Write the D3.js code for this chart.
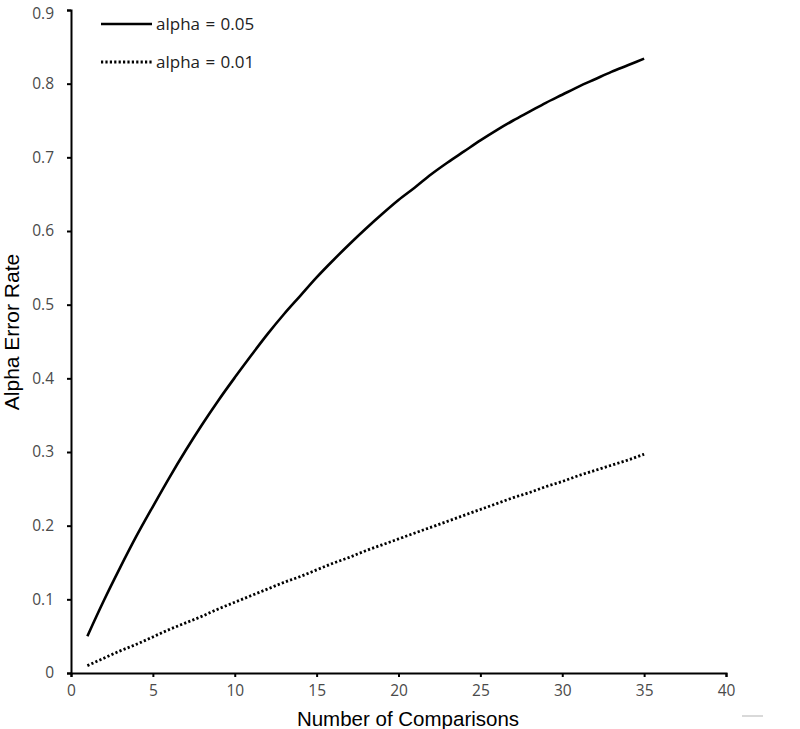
<!DOCTYPE html>
<html>
<head>
<meta charset="utf-8">
<script src="https://cdn.jsdelivr.net/npm/d3@7"></script>
<style>
	body { margin: 0; background: #fff; }
	svg { display: block; }
</style>
</head>
<body>
<div id="chart"></div>
<script>
// number of comparisons
var comparisons = [1, 2, 3, 4, 5, 6, 7, 8, 9, 10, 11, 12, 13, 14, 15, 16, 17, 18,
	19, 20, 21, 22, 23, 24, 25, 26, 27, 28, 29, 30, 31, 32, 33, 34, 35];
// alpha error rate
var alpha05 = [0.050, 0.098, 0.143, 0.186, 0.226, 0.265, 0.302, 0.337, 0.370, 0.401,
	0.431, 0.460, 0.487, 0.512, 0.537, 0.560, 0.582, 0.603, 0.623, 0.642,
	0.659, 0.677, 0.693, 0.708, 0.723, 0.737, 0.750, 0.762, 0.774, 0.785,
	0.796, 0.806, 0.816, 0.825, 0.834];
var alpha01 = [0.010, 0.020, 0.030, 0.039, 0.049, 0.059, 0.068, 0.077, 0.087, 0.096,
	0.105, 0.114, 0.123, 0.131, 0.140, 0.149, 0.157, 0.166, 0.174, 0.182,
	0.190, 0.198, 0.206, 0.214, 0.222, 0.230, 0.238, 0.245, 0.253, 0.260,
	0.268, 0.275, 0.282, 0.289, 0.297];
var xTicks = [0, 5, 10, 15, 20, 25, 30, 35, 40];
var yTicks = [0, 0.1, 0.2, 0.3, 0.4, 0.5, 0.6, 0.7, 0.8, 0.9];
var seriesNames = ["alpha = 0.05", "alpha = 0.01"];

var width = 800, height = 729;

var svg = d3.select("#chart").append("svg")
	.attr("width", width)
	.attr("height", height);

var x = d3.scaleLinear().domain([0, 40]).range([71, 726]);
var y = d3.scaleLinear().domain([0, 0.9]).range([673, 10]);

var xAxis = svg.append("g")
	.attr("transform", "translate(0," + y(0) + ")")
	.call(d3.axisBottom(x).tickValues(xTicks).tickFormat(d3.format("d")).tickSizeOuter(0).tickSize(4).tickPadding(8));

var yAxis = svg.append("g")
	.attr("transform", "translate(" + x(0) + ",0)")
	.call(d3.axisLeft(y).tickValues(yTicks).tickFormat(d => d === 0 ? "0" : d3.format(".1f")(d)).tickSizeOuter(0).tickSize(4).tickPadding(13));

[xAxis, yAxis].forEach(function(a) {
	a.attr("font-family", null).attr("font-size", null);
	a.select(".domain").attr("stroke", "#000").attr("stroke-width", 2);
	a.selectAll(".tick line").attr("stroke", "#000").attr("stroke-width", 2);
	a.selectAll(".tick text")
		.attr("font-family", "'Open Sans', sans-serif")
		.attr("font-size", 15.5)
		.attr("fill", "#4a4a4a");
});
// top label sits right at the edge, nudge it down a little
yAxis.selectAll(".tick text").filter(d => d === 0.9).attr("dy", "0.55em");

var line = d3.line()
	.x((d, i) => x(comparisons[i]))
	.y(d => y(d))
	.curve(d3.curveMonotoneX);

svg.append("path")
	.datum(alpha05)
	.attr("d", line)
	.attr("fill", "none")
	.attr("stroke", "#000")
	.attr("stroke-width", 2.6);

svg.append("path")
	.datum(alpha01)
	.attr("d", line)
	.attr("fill", "none")
	.attr("stroke", "#000")
	.attr("stroke-width", 2.8)
	.attr("stroke-dasharray", "2.2,2.2");

// legend
var legend = svg.append("g");
seriesNames.forEach(function(name, i) {
	var ly = 24 + i * 38;
	legend.append("line")
		.attr("x1", 101).attr("x2", 152)
		.attr("y1", ly).attr("y2", ly)
		.attr("stroke", "#000")
		.attr("stroke-width", i === 0 ? 2.6 : 2.8)
		.attr("stroke-dasharray", i === 0 ? null : "2.2,2.2");
	legend.append("text")
		.attr("x", 156)
		.attr("y", ly)
		.attr("dy", "0.35em")
		.attr("font-family", "'Open Sans', sans-serif")
		.attr("font-size", 17)
		.attr("word-spacing", 1)
		.attr("fill", "#222")
		.text(name);
});

// axis titles
svg.append("text")
	.attr("x", 408)
	.attr("y", 726)
	.attr("text-anchor", "middle")
	.attr("font-family", "'Liberation Sans', Arial, sans-serif")
	.attr("font-size", 20.5)
	.text("Number of Comparisons");

svg.append("text")
	.attr("transform", "translate(19,332) rotate(-90)")
	.attr("text-anchor", "middle")
	.attr("font-family", "'Liberation Sans', Arial, sans-serif")
	.attr("font-size", 21)
	.text("Alpha Error Rate");

// small grey stroke below the plot
svg.append("line")
	.attr("x1", 742).attr("x2", 763)
	.attr("y1", 716).attr("y2", 716)
	.attr("stroke", "#ccc")
	.attr("stroke-width", 1.5);
</script>
</body>
</html>
